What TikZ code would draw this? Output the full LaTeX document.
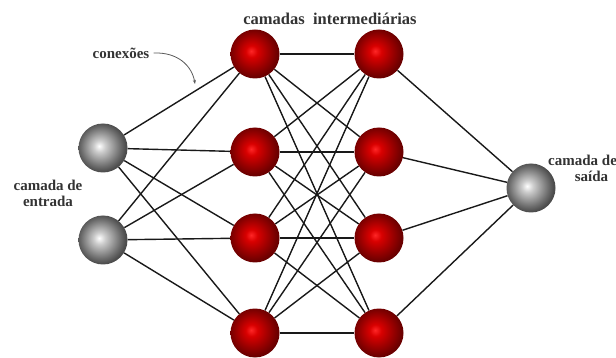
\documentclass[tikz,border=0pt]{standalone}
\usepackage{fontspec}
\setmainfont{Liberation Serif}
\usetikzlibrary{backgrounds,arrows.meta}
\pgfdeclareradialshading{redball}{\pgfpoint{-4bp}{3bp}}{color(0bp)=(red!85!white); color(6bp)=(red!85!black); color(16bp)=(red!62!black); color(25bp)=(red!42!black); color(50bp)=(red!42!black)}
\pgfdeclareradialshading{grayball}{\pgfpoint{-4bp}{2bp}}{color(0bp)=(white); color(6bp)=(gray!40); color(20bp)=(gray!85!black); color(25bp)=(gray!60!black); color(50bp)=(gray!60!black)}
\tikzset{
  neuron/.style={circle, minimum size=49pt, inner sep=0pt, shading=redball},
  ionode/.style={circle, minimum size=49pt, inner sep=0pt, shading=grayball},
  link/.style={black!90, line width=1.4pt},
  lbl/.style={font=\bfseries\fontsize{15}{16}\selectfont, text=black!80, align=center, inner sep=0pt},
}
\begin{document}
\begin{tikzpicture}[x=1pt,y=-1pt]
\useasboundingbox (0,0) rectangle (616,358);
\node[ionode] (i1) at (103,148) {};
\node[ionode] (i2) at (103,240) {};
\foreach \n/\y in {1/54,2/152,3/238,4/333}{
  \node[neuron] (a\n) at (255,\y) {};
  \node[neuron] (b\n) at (379,\y) {};
}
\node[ionode] (o) at (531,188) {};
\begin{pgfonlayer}{background}
\foreach \i in {1,2}{\foreach \j in {1,...,4}{\draw[link] (i\i) -- (a\j);}}
\foreach \i in {1,...,4}{\foreach \j in {1,...,4}{\draw[link] (a\i) -- (b\j);}}
\foreach \j in {1,...,4}{\draw[link] (b\j) -- (o);}
\end{pgfonlayer}
\node[lbl, font=\bfseries\fontsize{16.5}{17}\selectfont] (t1) at (330,19) {camadas\ \ intermediárias};
\node[lbl] (t2) at (121,53) {conexões};
\node[lbl] (t3) at (48,193) {camada de\\entrada};
\node[lbl, anchor=west] (t4) at (548,168) {camada de\\\hspace*{1.2em}saída};
\coordinate (ce) at (195,84);
\draw[black!65, line width=0.8pt, -{Stealth[length=4pt]}] (t2.east) ++(4,0) .. controls (178,52) and (192,66) .. (ce);
\end{tikzpicture}
\end{document}
